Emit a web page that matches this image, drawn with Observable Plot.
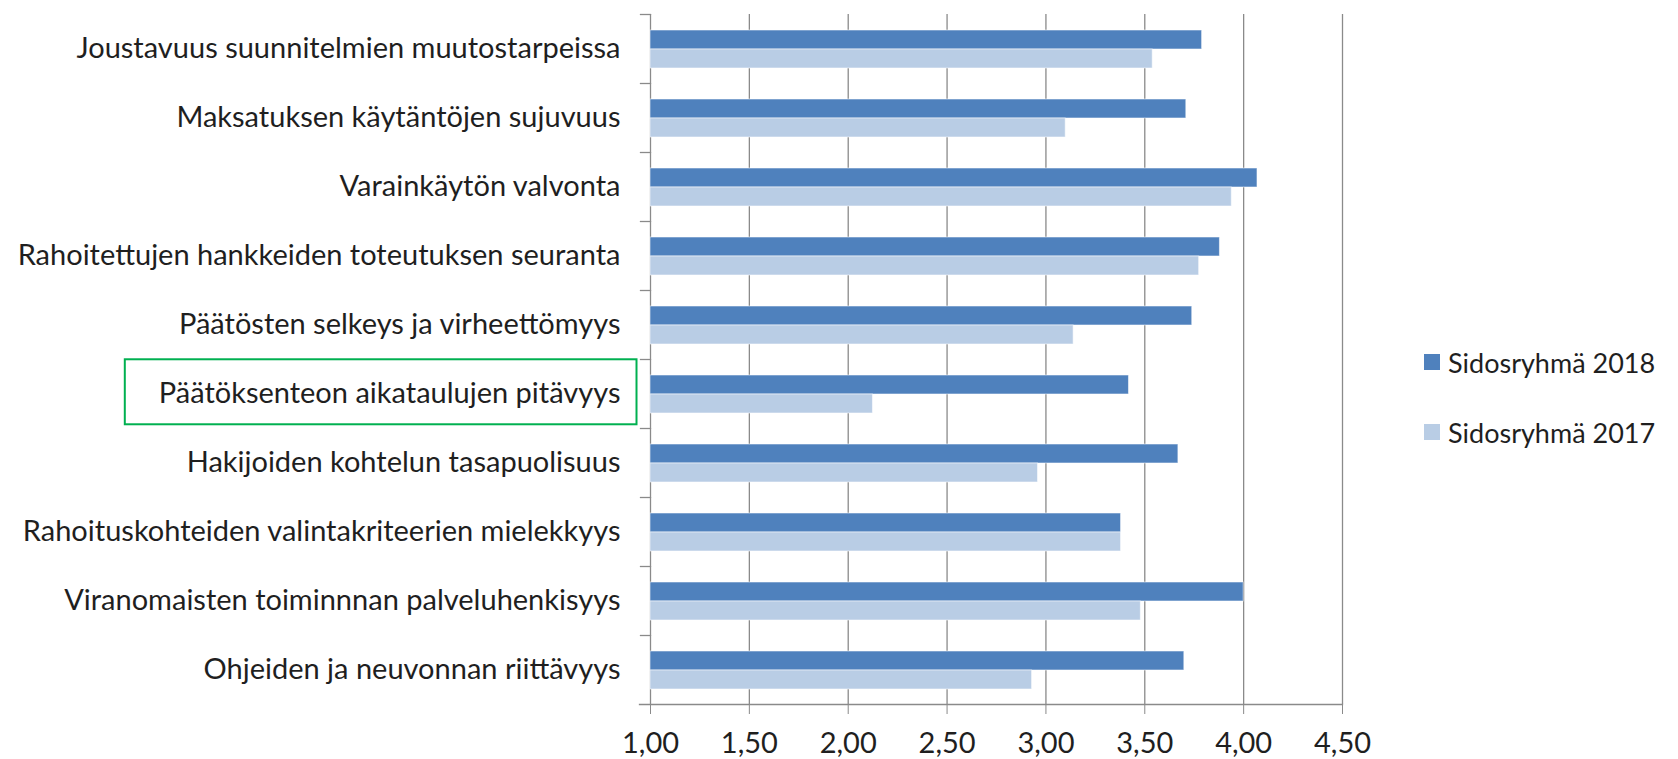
<!DOCTYPE html>
<html>
<head>
<meta charset="utf-8">
<script src="https://cdn.jsdelivr.net/npm/d3@7"></script>
<script src="https://cdn.jsdelivr.net/npm/@observablehq/plot@0.6"></script>
<style>
  html, body { margin: 0; padding: 0; background: #ffffff; }
  #wrap { position: relative; width: 1678px; height: 759px; overflow: hidden; font-family: Lato, "Open Sans", sans-serif; }
  #legend { position: absolute; left: 1424px; top: 340px; color: #1f1f1f; font-size: 27px; }
  .item { display: flex; align-items: center; height: 44px; margin-bottom: 26px; }
  .sw { width: 16px; height: 16px; margin-right: 8px; }
</style>
</head>
<body>
<div id="wrap"><div id="chart"></div><div id="legend"></div></div>
<script>
const categories = [
  "Joustavuus suunnitelmien muutostarpeissa",
  "Maksatuksen käytäntöjen sujuvuus",
  "Varainkäytön valvonta",
  "Rahoitettujen hankkeiden toteutuksen seuranta",
  "Päätösten selkeys ja virheettömyys",
  "Päätöksenteon aikataulujen pitävyys",
  "Hakijoiden kohtelun tasapuolisuus",
  "Rahoituskohteiden valintakriteerien mielekkyys",
  "Viranomaisten toiminnnan palveluhenkisyys",
  "Ohjeiden ja neuvonnan riittävyys"
];
const values2018 = [3.79, 3.71, 4.07, 3.88, 3.74, 3.42, 3.67, 3.38, 4.00, 3.70];
const values2017 = [3.54, 3.10, 3.94, 3.775, 3.14, 2.125, 2.96, 3.38, 3.48, 2.93];
const seriesNames = ["Sidosryhmä 2018", "Sidosryhmä 2017"];
const seriesColors = ["#4F81BD", "#B9CDE5"];
const xTicks = [1.0, 1.5, 2.0, 2.5, 3.0, 3.5, 4.0, 4.5];
const highlighted = "Päätöksenteon aikataulujen pitävyys";

const data = categories.flatMap((c, i) => [
  {category: c, series: seriesNames[0], value: values2018[i]},
  {category: c, series: seriesNames[1], value: values2017[i]}
]);

const W = 1678, H = 759, mL = 650, mR = 336, mT = 11, mB = 53;
const plotW = W - mL - mR;
const gridColor = "#8a8a8a";
const textColor = "#1f1f1f";
const fs = 29;

const chart = Plot.plot({
  width: W, height: H,
  marginLeft: mL, marginRight: mR, marginTop: mT, marginBottom: mB,
  style: {fontFamily: "Lato, 'Open Sans', sans-serif", fontSize: fs + "px", color: textColor, background: "white", overflow: "visible"},
  x: {domain: [xTicks[0], xTicks[xTicks.length - 1]], axis: null},
  y: {domain: seriesNames, axis: null, paddingInner: 0, paddingOuter: 0.8},
  fy: {domain: categories, padding: 0, axis: null},
  color: {domain: seriesNames, range: seriesColors},
  marks: [
    Plot.ruleX(xTicks, {stroke: gridColor, strokeWidth: 1.3}),
    Plot.barX(data, {fy: "category", y: "series", x1: xTicks[0], x2: "value", fill: "series", stroke: "#ffffff", strokeOpacity: 0.55, strokeWidth: 1}),
    Plot.frame({anchor: "top", insetLeft: -10, insetRight: plotW, stroke: gridColor, strokeWidth: 1.3}),
    Plot.frame({anchor: "bottom", facetAnchor: "bottom", insetLeft: -11, stroke: gridColor, strokeWidth: 1.3}),
    Plot.axisX({ticks: xTicks, tickFormat: d => d.toFixed(2).replace(".", ","), tickSize: 10, tickPadding: 18, fontSize: fs, stroke: gridColor, fill: textColor, label: null}),
    Plot.axisFy({anchor: "left", tickSize: 0, tickPadding: 30, fontSize: fs, fill: textColor, label: null})
  ]
});
document.getElementById("chart").appendChild(chart);

// highlight box around the emphasised category label
const svg = d3.select(chart.tagName.toLowerCase() === "svg" ? chart : chart.querySelector("svg"));
svg.selectAll("text").each(function() {
  if (this.textContent === highlighted) {
    const b = this.getBBox();
    const ctm = this.getCTM();
    const x0 = b.x + ctm.e, y0 = b.y + ctm.f;
    const cy = y0 + b.height / 2;
    svg.append("rect")
      .attr("x", x0 - 34).attr("y", cy - 32.5)
      .attr("width", b.width + 50).attr("height", 65)
      .attr("fill", "none").attr("stroke", "#00B050").attr("stroke-width", 2);
  }
});

// legend
const legend = d3.select("#legend");
seriesNames.forEach((s, i) => {
  const it = legend.append("div").attr("class", "item");
  it.append("div").attr("class", "sw").style("background", seriesColors[i]);
  it.append("span").text(s);
});
</script>
</body>
</html>
